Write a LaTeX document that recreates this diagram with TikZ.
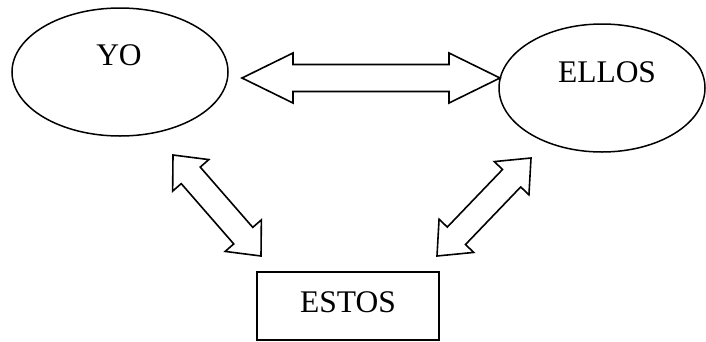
\documentclass[tikz,border=0pt]{standalone}
\usepackage{fontspec}
\setmainfont{Liberation Serif}
\usetikzlibrary{shapes.geometric,calc}
\newcommand{\blockarrow}[5]{%
\draw[arrowline] (#1) -- ($(#1)!#5!(#2)!#4!90:(#2)$) -- ($(#1)!#5!(#2)!#3!90:(#2)$)
 -- ($(#2)!#5!(#1)!#3!-90:(#1)$) -- ($(#2)!#5!(#1)!#4!-90:(#1)$) -- (#2)
 -- ($(#2)!#5!(#1)!#4!90:(#1)$) -- ($(#2)!#5!(#1)!#3!90:(#1)$)
 -- ($(#1)!#5!(#2)!#3!-90:(#2)$) -- ($(#1)!#5!(#2)!#4!-90:(#2)$) -- cycle;}
\begin{document}
\begin{tikzpicture}[x=1pt,y=-1pt,
  shapeline/.style={draw=black,line width=1.5pt},
  arrowline/.style={draw=black,line width=1.6pt,line join=miter,fill=white},
  lbl/.style={anchor=base,inner sep=0pt,font=\fontsize{31.5}{36}\selectfont}]
\useasboundingbox (0,0) rectangle (706,341);
\node[shapeline,ellipse,minimum width=216pt,minimum height=128pt,inner sep=0pt] (yo) at (120,72) {};
\node[shapeline,ellipse,minimum width=206pt,minimum height=128pt,inner sep=0pt] (ellos) at (602,88) {};
\node[shapeline,rectangle,minimum width=182pt,minimum height=68pt,inner sep=0pt] (estos) at (348,306) {};
\node[lbl] (yot) at (119,65) {YO};
\node[lbl] (ellost) at (607,82) {ELLOS};
\node[lbl] (estost) at (348,312) {ESTOS};
\coordinate (a1) at (242,78);
\coordinate (b1) at (500,78);
\coordinate (a2) at (173,155);
\coordinate (b2) at (261,256);
\coordinate (a3) at (531,158);
\coordinate (b3) at (437,256);
\blockarrow{a1}{b1}{13.5pt}{25pt}{51pt}
\blockarrow{a2}{b2}{12.6pt}{24pt}{27pt}
\blockarrow{a3}{b3}{12.6pt}{24pt}{28pt}
\end{tikzpicture}
\end{document}
